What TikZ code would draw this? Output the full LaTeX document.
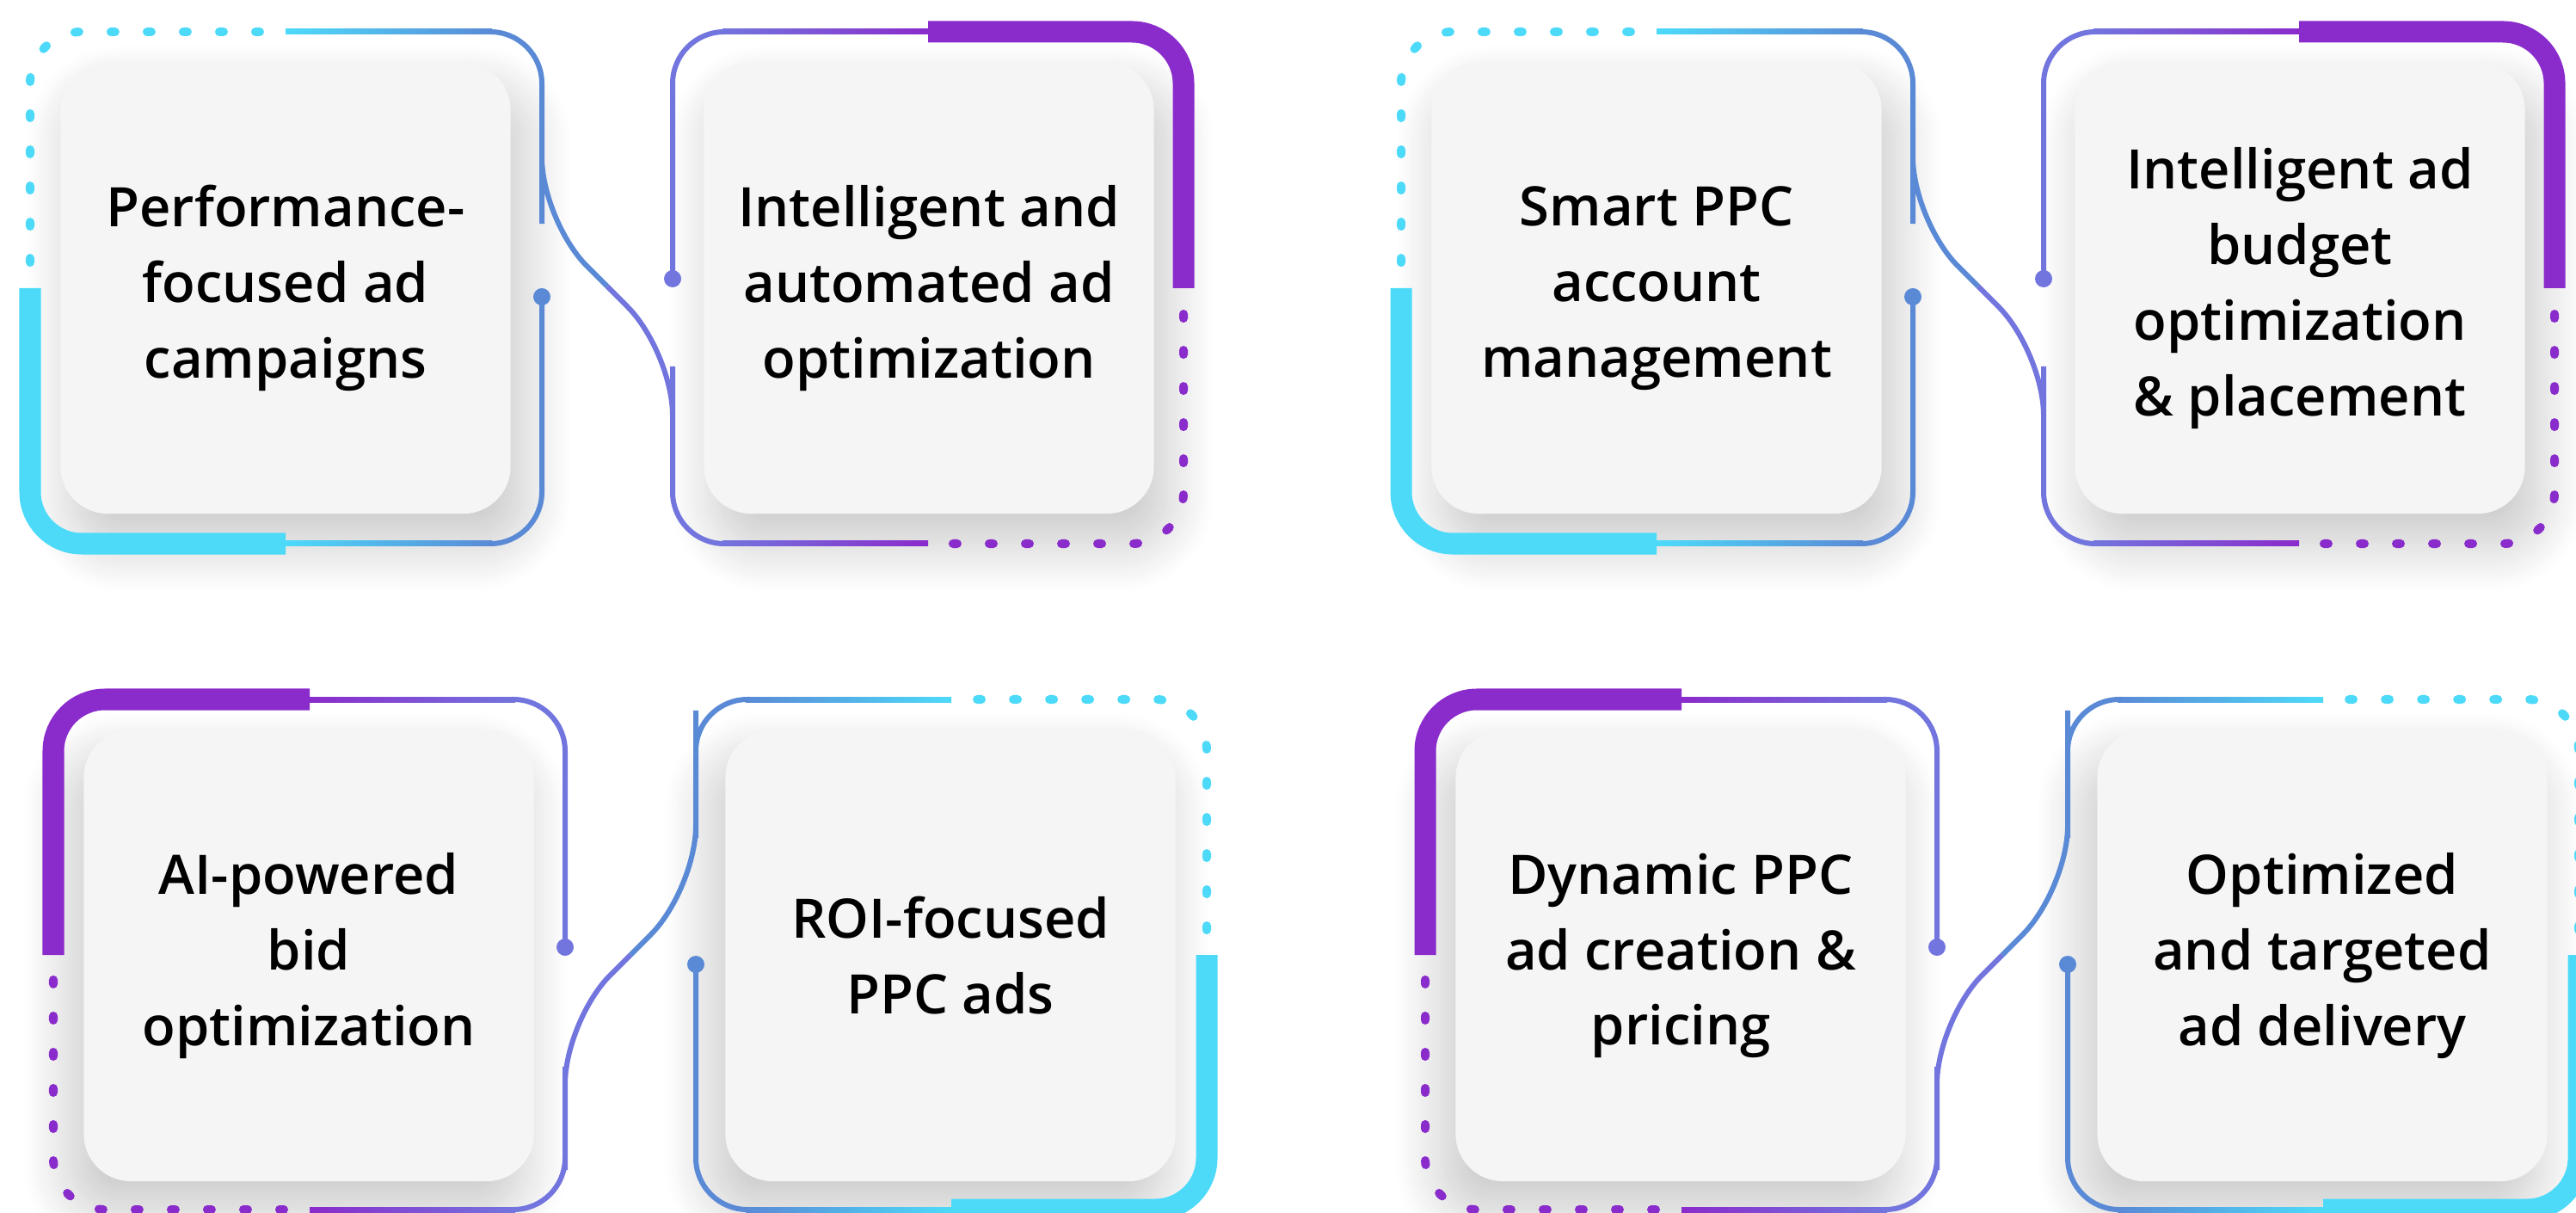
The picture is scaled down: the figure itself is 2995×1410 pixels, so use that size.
\documentclass[tikz,border=0pt]{standalone}
\usepackage{fontspec}
\IfFontExistsTF{Open Sans SemiBold}{\setmainfont{Open Sans}[BoldFont={Open Sans SemiBold}]}{%
  \IfFontExistsTF{Open Sans Semibold}{\setmainfont{Open Sans}[BoldFont={Open Sans Semibold}]}{\setmainfont{Open Sans}}}
\usepackage{xcolor}
\usetikzlibrary{shadows.blur}
\definecolor{cyanc}{HTML}{4DDAF9}
\definecolor{bluec}{HTML}{5A8AD6}
\definecolor{violc}{HTML}{7375DE}
\definecolor{purpc}{HTML}{8A2BCB}
\definecolor{cardgray}{HTML}{F5F5F5}

\begin{document}
\begin{tikzpicture}[x=0.01cm, y=-0.01cm,
        card/.style={fill=cardgray, rounded corners=0.55cm, minimum width=5.23cm, minimum height=5.24cm,
                align=center, font=\fontsize{18}{25}\selectfont\bfseries},
        topcard/.style={card, blur shadow={shadow xshift=0.15cm, shadow yshift=-0.35cm, shadow blur radius=0.55cm, shadow blur steps=24, shadow opacity=22}},
        botcard/.style={card, blur shadow={shadow xshift=-0.15cm, shadow yshift=-0.35cm, shadow blur radius=0.55cm, shadow blur steps=24, shadow opacity=22}},
        thinline/.style={line width=0.06cm, rounded corners=0.6cm},
        thickline/.style={line width=0.25cm, rounded corners=0.6cm},
        dotline/.style={line width=0.1cm, line cap=round, dash pattern=on 0.05cm off 0.37cm, dash phase=0.12cm, rounded corners=0.6cm}]
        \useasboundingbox (0,0) rectangle (2995,1410);
        % cards
        \node[topcard] (perf) at (332,335) {Performance-\\focused ad\\campaigns};
        \node[topcard] (auto) at (1080,335) {Intelligent and\\automated ad\\optimization};
        \node[topcard] (smart) at (1926,335) {Smart PPC\\account\\management};
        \node[topcard] (budget) at (2674,335) {Intelligent ad\\budget\\optimization\\\& placement};
        \node[botcard] (bid) at (359,1111) {AI-powered\\bid\\optimization};
        \node[botcard] (roi) at (1105,1111) {ROI-focused\\PPC ads};
        \node[botcard] (dyn) at (1954,1111) {Dynamic PPC\\ad creation \&\\pricing};
        \node[botcard] (deliv) at (2700,1111) {Optimized\\and targeted\\ad delivery};
        % top row frames
        \foreach \dx in {0,1594}{
        \begin{scope}[shift={(\dx,0)}]
        \draw[dotline, cyanc] (332,37) -| (35,335);
        \draw[thickline, cyanc] (35,335) |- (332,632);
        \shade[left color=cyanc, right color=bluec] (332,629) rectangle (572,635);
        \draw[thinline, bluec] (568,632) -| (630,345);
        \fill[bluec] (630,345) circle (0.1cm);
        \shade[left color=cyanc, right color=bluec] (332,34) rectangle (572,40);
        \draw[thinline, bluec] (568,37) -| (630,200) [rounded corners=0.74cm] -- (630,257) -- (706,333);
        \draw[thinline, violc, rounded corners=0.74cm] (706,333) -- (782,409) -- (782,500) [rounded corners=0.6cm] |- (844,632);
        \shade[left color=violc, right color=purpc] (840,629) rectangle (1079,635);
        \shade[left color=violc, right color=purpc] (840,34) rectangle (1079,40);
        \draw[thinline, violc] (844,37) -| (782,324);
        \fill[violc] (782,324) circle (0.1cm);
        \draw[thickline, purpc] (1079,37) -| (1376,335);
        \draw[dotline, purpc] (1376,335) |- (1079,632);
        \end{scope}
        }
        % bottom row frames
        \foreach \dx in {0,1595}{
        \begin{scope}[shift={(\dx,0)}]
        \draw[thickline, purpc] (62,1110) |- (360,813);
        \shade[left color=purpc, right color=violc] (360,810) rectangle (599,816);
        \draw[thinline, violc] (595,813) -| (657,1101);
        \fill[violc] (657,1101) circle (0.1cm);
        \draw[dotline, purpc] (360,1406) -| (62,1110);
        \shade[left color=purpc, right color=violc] (360,1403) rectangle (599,1409);
        \draw[thinline, violc] (595,1406) -| (657,1300) [rounded corners=0.74cm] -- (657,1186) -- (733,1110);
        \draw[thinline, bluec, rounded corners=0.74cm] (733,1110) -- (809,1034) -- (809,900) [rounded corners=0.6cm] |- (871,813);
        \shade[left color=bluec, right color=cyanc] (867,810) rectangle (1106,816);
        \draw[dotline, cyanc] (1106,813) -| (1403,1110);
        \draw[thickline, cyanc] (1403,1110) |- (1106,1406);
        \shade[left color=bluec, right color=cyanc] (867,1403) rectangle (1106,1409);
        \draw[thinline, bluec] (871,1406) -| (809,1121);
        \fill[bluec] (809,1121) circle (0.1cm);
        \end{scope}
        }
\end{tikzpicture}
\end{document}
